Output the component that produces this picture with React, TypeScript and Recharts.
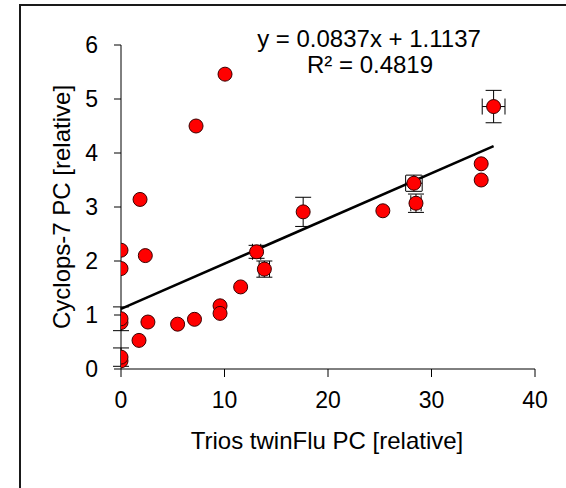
import React from 'react';
import { ScatterChart, Scatter, XAxis, YAxis, ErrorBar, ReferenceLine } from 'recharts';

// Points without error bars
const plainX = [10.05, 7.25, 1.84, 0, 2.35, 0, 0, 0, 1.74, 2.6, 5.47, 7.1, 9.57, 9.57, 11.56, 25.3, 34.8, 34.8];
const plainY = [5.46, 4.5, 3.14, 2.2, 2.1, 1.86, 0.86, 0.15, 0.53, 0.87, 0.83, 0.92, 1.17, 1.03, 1.52, 2.93, 3.8, 3.5];

// Points with vertical error bars only
const vErrX = [0, 0, 17.6];
const vErrY = [0.93, 0.22, 2.91];
const vErrSd = [0.22, 0.17, 0.27];

// Points with vertical and horizontal error bars
const xyErrX = [13.1, 13.85, 28.3, 28.5, 36.0];
const xyErrY = [2.17, 1.85, 3.44, 3.07, 4.86];
const xyErrSdX = [0.4, 0.5, 0.8, 0.5, 1.1];
const xyErrSdY = [0.12, 0.15, 0.15, 0.17, 0.3];

const xTicks = [0, 10, 20, 30, 40];
const yTicks = [0, 1, 2, 3, 4, 5, 6];

const slope = 0.0837;
const intercept = 1.1137;
const fitXStart = 0;
const fitXEnd = 36.0;

const plainData = plainX.map((x, i) => ({ x, y: plainY[i] }));
const vErrData = vErrX.map((x, i) => ({ x, y: vErrY[i], ey: vErrSd[i] }));
const xyErrData = xyErrX.map((x, i) => ({ x, y: xyErrY[i], ex: xyErrSdX[i], ey: xyErrSdY[i] }));
const allData = [...plainData, ...vErrData, ...xyErrData];

const FONT = 'Arial, "Liberation Sans", sans-serif';

const Dot = (p: any) => (
  <circle cx={p.cx} cy={p.cy} r={7} fill="#FF0000" stroke="#3a0000" strokeWidth={1} />
);
const NoDot = () => <g />;

export default function App() {
  return (
    <div style={{ position: 'absolute', left: 0, top: 0, width: 566, height: 488, background: '#fff', fontFamily: FONT, overflow: 'hidden' }}>
      <div style={{ position: 'absolute', left: 19, top: 4, width: 600, height: 600, borderTop: '2px solid #1a1a1a', borderLeft: '2px solid #1a1a1a' }} />
      <div style={{ position: 'absolute', left: 0, top: 0 }}>
        <ScatterChart width={566} height={488} margin={{ top: 45, right: 31, bottom: 0, left: 0 }}>
          <XAxis
            type="number"
            dataKey="x"
            domain={[0, 40]}
            ticks={xTicks}
            interval={0}
            height={119}
            stroke="#000"
            tickSize={8}
            tickMargin={15}
            tick={{ fill: '#000', fontSize: 23, fontFamily: FONT }}
            allowDataOverflow
          />
          <YAxis
            type="number"
            dataKey="y"
            domain={[0, 6]}
            ticks={yTicks}
            interval={0}
            width={121}
            stroke="#000"
            tickSize={7}
            tickMargin={16}
            tick={{ fill: '#000', fontSize: 23, fontFamily: FONT }}
            allowDataOverflow
          />
          <ReferenceLine
            segment={[
              { x: fitXStart, y: intercept + slope * fitXStart },
              { x: fitXEnd, y: intercept + slope * fitXEnd },
            ]}
            stroke="#000"
            strokeWidth={2.6}
            ifOverflow="visible"
          />
          <Scatter data={vErrData} shape={NoDot} isAnimationActive={false}>
            <ErrorBar dataKey="ey" direction="y" width={8} stroke="#000" strokeWidth={1} />
          </Scatter>
          <Scatter data={xyErrData} shape={NoDot} isAnimationActive={false}>
            <ErrorBar dataKey="ey" direction="y" width={8} stroke="#000" strokeWidth={1} />
            <ErrorBar dataKey="ex" direction="x" width={8} stroke="#000" strokeWidth={1} />
          </Scatter>
          <Scatter data={allData} shape={Dot} isAnimationActive={false} />
        </ScatterChart>
      </div>
      <svg width={566} height={488} style={{ position: 'absolute', left: 0, top: 0, pointerEvents: 'none' }}>
        <text x={369} y={47} textAnchor="middle" fontSize={24} fontFamily={FONT} fill="#000">y = 0.0837x + 1.1137</text>
        <text x={370} y={73} textAnchor="middle" fontSize={24} fontFamily={FONT} fill="#000">R² = 0.4819</text>
        <text x={327} y={449} textAnchor="middle" fontSize={24} fontFamily={FONT} fill="#000">Trios twinFlu PC [relative]</text>
        <text x={61} y={207} textAnchor="middle" dominantBaseline="central" transform="rotate(-90, 61, 207)" fontSize={24} fontFamily={FONT} fill="#000">Cyclops-7 PC [relative]</text>
      </svg>
    </div>
  );
}
